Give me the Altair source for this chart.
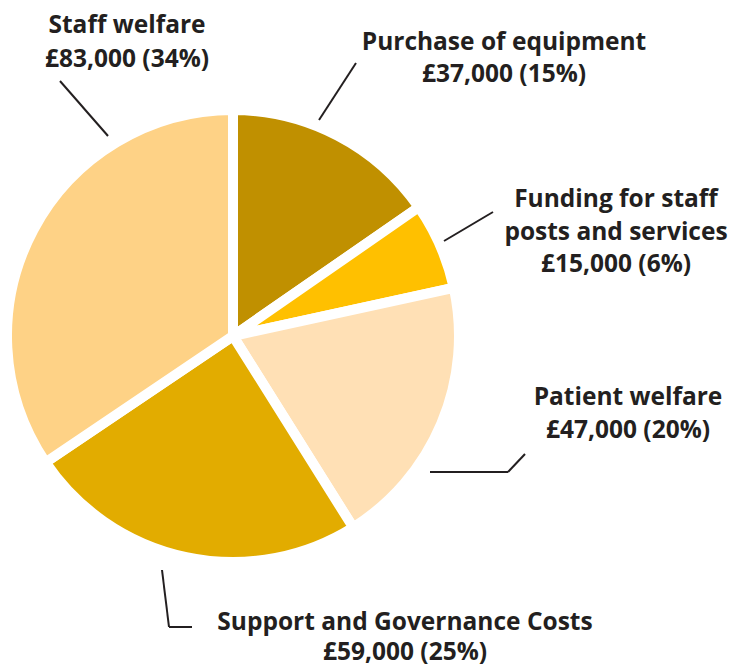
import altair as alt
import pandas as pd

# ---- data ----
categories = ["Purchase of equipment", "Funding for staff posts and services",
              "Patient welfare", "Support and Governance Costs", "Staff welfare"]
amounts = [37000, 15000, 47000, 59000, 83000]
percents = [15, 6, 20, 25, 34]
colors = ["#C09000", "#FFC000", "#FFE0B5", "#E2AC00", "#FED286"]

# label line breaks
label_lines = {
    "Purchase of equipment": ["Purchase of equipment"],
    "Funding for staff posts and services": ["Funding for staff", "posts and services"],
    "Patient welfare": ["Patient welfare"],
    "Support and Governance Costs": ["Support and Governance Costs"],
    "Staff welfare": ["Staff welfare"],
}

df = pd.DataFrame({
    "category": categories,
    "amount": amounts,
    "pct": percents,
    "idx": list(range(len(categories))),
})

W, H = 726, 660
CX, CY, R = 225, 328, 226
FONT = "Open Sans"
INK = "#231F20"

pie = alt.Chart(df).mark_arc(radius=R, stroke="white", strokeWidth=10,
                             strokeJoin="miter").encode(
    theta=alt.Theta("amount:Q", stack=True),
    order=alt.Order("idx:Q"),
    color=alt.Color("category:N", scale=alt.Scale(domain=categories, range=colors),
                    legend=None),
    x=alt.value(CX),
    y=alt.value(CY),
)

one = pd.DataFrame({"a": [0]})

# label anchor positions (annotation layout): (x center, first baseline, line height)
label_pos = {
    "Staff welfare": (119, 25, 34),
    "Purchase of equipment": (496, 42, 32),
    "Funding for staff posts and services": (608, 199, 32.5),
    "Patient welfare": (620, 397, 33),
    "Support and Governance Costs": (397, 622, 30),
}

layers = [pie]
for cat, amt, p in zip(categories, amounts, percents):
    lines = label_lines[cat] + [f"£{amt:,} ({p}%)"]
    x, y, lh = label_pos[cat]
    layers.append(
        alt.Chart(one).mark_text(
            text=lines, font=FONT, fontWeight="bold", fontSize=24.5,
            color=INK, align="center", baseline="alphabetic", lineHeight=lh,
        ).encode(x=alt.value(x), y=alt.value(y))
    )

segments = [
    (52, 73, 100, 128),
    (348, 55, 311, 112),
    (485, 204, 436, 233),
    (422, 464, 500, 464),
    (500, 464, 517, 446),
    (154, 562, 161, 619),
    (161, 619, 184, 619),
]
for x1, y1, x2, y2 in segments:
    layers.append(
        alt.Chart(one).mark_rule(color=INK, strokeWidth=2).encode(
            x=alt.value(x1), y=alt.value(y1), x2=alt.value(x2), y2=alt.value(y2)
        )
    )

chart = alt.layer(*layers).properties(
    width=W, height=H, autosize=alt.AutoSizeParams(type="none"), padding=0,
    background="white",
).configure_view(stroke=None)

chart.save("out.html", embed_options={"renderer": "svg", "actions": False})
